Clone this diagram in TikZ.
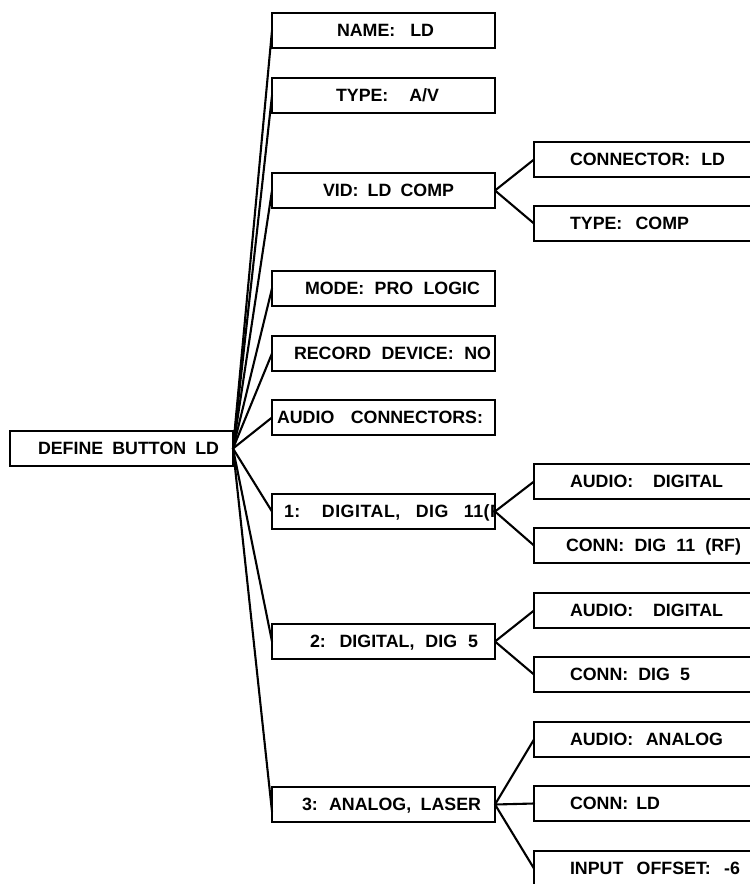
\documentclass[tikz,border=0pt]{standalone}
\usepackage{fontspec}
\setmainfont{Liberation Sans}[WordSpace=2]
\tikzset{
  boxst/.style={draw=black, line width=2.1pt, rectangle, inner sep=0pt, outer sep=0pt, minimum height=35pt},
  lbl/.style={inner sep=0pt, outer sep=0pt, font=\fontsize{17.8}{19}\selectfont\bfseries},
  link/.style={draw=black, line width=2.1pt, line cap=round}
}
\newcommand\tbox[7]{%
  \node[boxst, minimum width=#4pt, anchor=north west] (#1) at (#2,#3) {};
  \begin{scope}
    \clip (#1.south west) rectangle (#1.north east);
    \node[lbl, anchor=base west] (#1-t) at (#5,#3+23.8) {\makebox[#6pt][s]{#7}};
  \end{scope}}
\begin{document}
\begin{tikzpicture}[x=1pt, y=-1pt]
\useasboundingbox (0,0) rectangle (750,884);
\clip (0,0) rectangle (750,884);
% root
\tbox{root}{10}{431}{223}{38}{181}{DEFINE BUTTON LD}
% middle column
\tbox{name}{272}{13}{223}{337}{97}{NAME: LD}
\tbox{type}{272}{78}{223}{336}{103}{TYPE: A/V}
\tbox{vid}{272}{173}{223}{323}{131}{VID: LD COMP}
\tbox{mode}{272}{271}{223}{305}{175}{MODE: PRO LOGIC}
\tbox{rec}{272}{336}{223}{294}{197}{RECORD DEVICE: NO}
\tbox{audc}{272}{400}{223}{277}{206}{AUDIO CONNECTORS:}
\tbox{da}{272}{494}{223}{284}{219}{\addfontfeature{LetterSpace=3}1: DIGITAL, DIG 11(R}
\tbox{db}{272}{624}{223}{310}{168}{2: DIGITAL, DIG 5}
\tbox{dc}{272}{787}{223}{302}{179}{3: ANALOG, LASER}
% right column
\tbox{vconn}{534}{142}{280}{570}{155}{CONNECTOR: LD}
\tbox{vtype}{534}{206}{280}{570}{119}{TYPE: COMP}
\tbox{aaud}{534}{464}{280}{570}{153}{AUDIO: DIGITAL}
\tbox{aconn}{534}{528}{280}{566}{175}{CONN: DIG 11 (RF)}
\tbox{baud}{534}{593}{280}{570}{153}{AUDIO: DIGITAL}
\tbox{bconn}{534}{657}{280}{570}{120}{CONN: DIG 5}
\tbox{caud}{534}{722}{280}{570}{153}{AUDIO: ANALOG}
\tbox{cconn}{534}{786}{280}{570}{90}{CONN: LD}
\tbox{coff}{534}{851}{280}{570}{170}{INPUT OFFSET: -6}
% connectors from root
\foreach \n in {name,type,vid,mode,rec,audc,da,db}
  \draw[link] (root.east) -- (\n.west);
\draw[link] (root.east) -- ([yshift=-7pt]dc.west);
% sub connectors
\draw[link] (vid.east) -- (vconn.west);
\draw[link] (vid.east) -- (vtype.west);
\draw[link] (da.east) -- (aaud.west);
\draw[link] (da.east) -- (aconn.west);
\draw[link] (db.east) -- (baud.west);
\draw[link] (db.east) -- (bconn.west);
\draw[link] (dc.east) -- (caud.west);
\draw[link] (dc.east) -- (cconn.west);
\draw[link] (dc.east) -- (coff.west);
\end{tikzpicture}
\end{document}
